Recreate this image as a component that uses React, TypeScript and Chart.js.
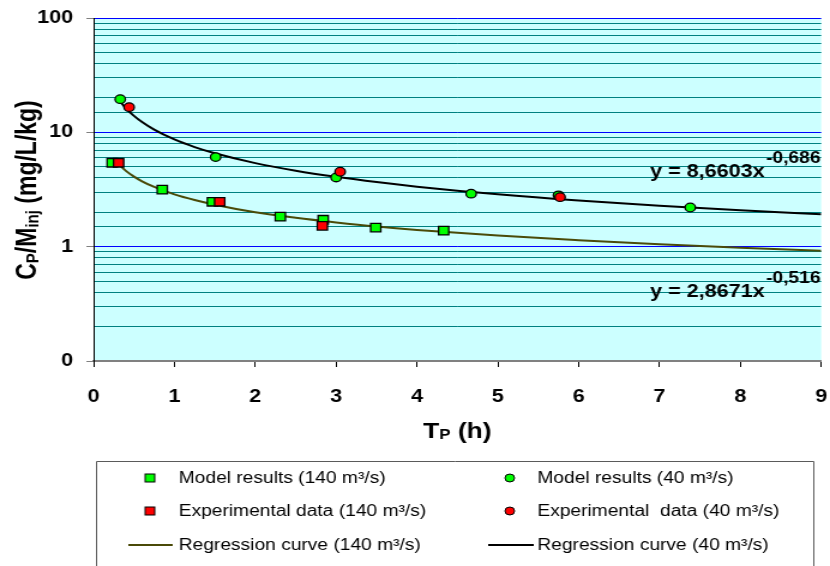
import React, { useEffect, useRef } from "react";
import { Chart, registerables } from "chart.js";

Chart.register(...registerables);

// ---------- data ----------
const model140X = [0.23, 0.85, 1.47, 2.31, 2.84, 3.49, 4.33];
const model140Y = [5.42, 3.15, 2.47, 1.83, 1.72, 1.47, 1.38];
const exp140X = [0.31, 1.56, 2.83];
const exp140Y = [5.42, 2.47, 1.52];

const model40X = [0.33, 1.51, 3.0, 4.67, 5.75, 7.38];
const model40Y = [19.5, 6.07, 4.03, 2.91, 2.81, 2.2];
const exp40X = [0.44, 3.05, 5.77];
const exp40Y = [16.6, 4.52, 2.71];

const reg140X = [0.28, 0.4, 0.5, 0.6, 0.75, 1, 1.25, 1.5, 2, 2.5, 3, 3.5, 4, 5, 6, 7, 8, 9];
const reg140Y = [5.53, 4.6, 4.1, 3.73, 3.33, 2.87, 2.56, 2.33, 2.0, 1.79, 1.63, 1.5, 1.4, 1.25, 1.14, 1.05, 0.98, 0.92];
const reg40X = [0.33, 0.4, 0.5, 0.6, 0.75, 1, 1.25, 1.5, 2, 2.5, 3, 3.5, 4, 5, 6, 7, 8, 9];
const reg40Y = [18.53, 16.24, 13.93, 12.3, 10.55, 8.66, 7.43, 6.56, 5.38, 4.62, 4.08, 3.67, 3.35, 2.87, 2.53, 2.28, 2.08, 1.92];

const xTicks = [0, 1, 2, 3, 4, 5, 6, 7, 8, 9];
const yMajorLabels: Record<string, string> = { "0.1": "0", "1": "1", "10": "10", "100": "100" };

const eq40 = { main: "y = 8,6603x", exp: "-0,686" };
const eq140 = { main: "y = 2,8671x", exp: "-0,516" };

const legendCol1 = ["Model results (140 m³/s)", "Experimental data (140 m³/s)", "Regression curve (140 m³/s)"];
const legendCol2 = ["Model results (40 m³/s)", "Experimental  data (40 m³/s)", "Regression curve (40 m³/s)"];

// ---------- styling ----------
const LOGICAL_W = 692;
const H = 566;
const FONT = '"Liberation Sans", Arial, Helvetica, sans-serif';
const GREEN = "#00ff00";
const RED = "#ff0000";
const OLIVE = "#4a4a08";

const pts = (xs: number[], ys: number[]) => xs.map((x, i) => ({ x, y: ys[i] }));
const isMajor = (v: number) => {
  const l = Math.log10(v);
  return Math.abs(l - Math.round(l)) < 1e-6;
};

type Part = { t: string; size: number; bold?: boolean; dy?: number };
const fontOf = (p: Part) => `${p.bold ? "bold " : ""}${p.size}px ${FONT}`;
function partsWidth(ctx: CanvasRenderingContext2D, parts: Part[]) {
  let w = 0;
  for (const p of parts) {
    ctx.font = fontOf(p);
    w += ctx.measureText(p.t).width;
  }
  return w;
}
function drawParts(ctx: CanvasRenderingContext2D, parts: Part[], x: number, y: number) {
  let cx = x;
  for (const p of parts) {
    ctx.font = fontOf(p);
    ctx.fillText(p.t, cx, y + (p.dy || 0));
    cx += ctx.measureText(p.t).width;
  }
}

const bgPlugin = {
  id: "bgPlugin",
  beforeDraw(chart: any) {
    const { ctx, chartArea: a } = chart;
    ctx.save();
    ctx.fillStyle = "#ccffff";
    ctx.fillRect(a.left, a.top, a.right - a.left, a.bottom - a.top);
    ctx.restore();
  },
};

const textPlugin = {
  id: "textPlugin",
  afterDraw(chart: any) {
    const ctx: CanvasRenderingContext2D = chart.ctx;
    const a = chart.chartArea;
    ctx.save();
    ctx.fillStyle = "#000";
    ctx.textBaseline = "alphabetic";
    ctx.textAlign = "left";

    // equations
    const drawEq = (eq: { main: string; exp: string }, x: number, y: number) => {
      drawParts(ctx, [{ t: eq.main, size: 18, bold: true }, { t: " ", size: 4, bold: true }, { t: eq.exp, size: 16, bold: true, dy: -14 }], x, y);
    };
    drawEq(eq40, 542, 177);
    drawEq(eq140, 542, 297);

    // x title
    const xt: Part[] = [
      { t: "T", size: 22, bold: true },
      { t: "P", size: 14, bold: true, dy: 1 },
      { t: " (h)", size: 22, bold: true },
    ];
    const xw = partsWidth(ctx, xt);
    drawParts(ctx, xt, (a.left + a.right) / 2 - xw / 2, 438);

    // y title
    const yt: Part[] = [
      { t: "C", size: 23, bold: true },
      { t: "P", size: 15, bold: true, dy: 2 },
      { t: "/M", size: 23, bold: true },
      { t: "inj", size: 15, bold: true, dy: 2 },
      { t: " (mg/L/kg)", size: 23, bold: true },
    ];
    const yw = partsWidth(ctx, yt);
    ctx.save();
    ctx.translate(29.5, 190);
    ctx.rotate(-Math.PI / 2);
    drawParts(ctx, yt, -yw / 2, 0);
    ctx.restore();

    // legend box
    ctx.strokeStyle = "#5a5a5a";
    ctx.lineWidth = 1;
    ctx.beginPath();
    ctx.moveTo(80.5, H + 5);
    ctx.lineTo(80.5, 461.5);
    ctx.lineTo(678.5, 461.5);
    ctx.lineTo(678.5, H + 5);
    ctx.stroke();

    const rows = [478, 511, 545];
    ctx.textBaseline = "middle";
    const square = (cx: number, cy: number, fill: string) => {
      ctx.fillStyle = fill;
      ctx.fillRect(cx - 4, cy - 4, 8, 8);
      ctx.strokeStyle = "#000";
      ctx.lineWidth = 1;
      ctx.strokeRect(cx - 4, cy - 4, 8, 8);
    };
    const circle = (cx: number, cy: number, fill: string) => {
      ctx.beginPath();
      ctx.arc(cx, cy, 4, 0, Math.PI * 2);
      ctx.fillStyle = fill;
      ctx.fill();
      ctx.strokeStyle = "#000";
      ctx.lineWidth = 1;
      ctx.stroke();
    };
    const seg = (x1: number, x2: number, cy: number, color: string) => {
      ctx.beginPath();
      ctx.moveTo(x1, cy);
      ctx.lineTo(x2, cy);
      ctx.strokeStyle = color;
      ctx.lineWidth = 1.8;
      ctx.stroke();
    };
    square(125, rows[0], GREEN);
    square(125, rows[1], RED);
    seg(107, 144, rows[2], OLIVE);
    circle(425, rows[0], GREEN);
    circle(425, rows[1], RED);
    seg(407, 445, rows[2], "#000");
    ctx.fillStyle = "#000";
    ctx.font = `16px ${FONT}`;
    legendCol1.forEach((t, i) => ctx.fillText(t, 149, rows[i] + 1));
    legendCol2.forEach((t, i) => ctx.fillText(t, 448, rows[i] + 1));

    ctx.restore();
  },
};

export default function App() {
  const ref = useRef<HTMLCanvasElement | null>(null);

  useEffect(() => {
    document.body.style.margin = "0";
    const canvas = ref.current;
    if (!canvas) return;
    const chart = new Chart(canvas, {
      type: "scatter",
      data: {
        datasets: [
          {
            label: "Regression curve (140 m³/s)",
            type: "line",
            data: pts(reg140X, reg140Y),
            borderColor: OLIVE,
            borderWidth: 2,
            pointRadius: 0,
            fill: false,
            cubicInterpolationMode: "monotone",
            order: 10,
          },
          {
            label: "Regression curve (40 m³/s)",
            type: "line",
            data: pts(reg40X, reg40Y),
            borderColor: "#000",
            borderWidth: 2,
            pointRadius: 0,
            fill: false,
            cubicInterpolationMode: "monotone",
            order: 9,
          },
          {
            label: "Model results (140 m³/s)",
            data: pts(model140X, model140Y),
            pointStyle: "rect",
            pointRadius: 6,
            backgroundColor: GREEN,
            borderColor: "#000",
            borderWidth: 1.3,
            order: 5,
          },
          {
            label: "Model results (40 m³/s)",
            data: pts(model40X, model40Y),
            pointStyle: "circle",
            pointRadius: 4.3,
            backgroundColor: GREEN,
            borderColor: "#000",
            borderWidth: 1.3,
            order: 4,
          },
          {
            label: "Experimental data (140 m³/s)",
            data: pts(exp140X, exp140Y),
            pointStyle: "rect",
            pointRadius: 6,
            backgroundColor: RED,
            borderColor: "#000",
            borderWidth: 1.3,
            order: 2,
          },
          {
            label: "Experimental data (40 m³/s)",
            data: pts(exp40X, exp40Y),
            pointStyle: "circle",
            pointRadius: 4.3,
            backgroundColor: RED,
            borderColor: "#000",
            borderWidth: 1.3,
            order: 1,
          },
        ],
      },
      options: {
        responsive: false,
        animation: false,
        events: [],
        layout: { padding: { top: 18, right: 6, left: 0, bottom: 0 } },
        plugins: { legend: { display: false }, tooltip: { enabled: false }, title: { display: false } },
        scales: {
          x: {
            type: "linear",
            min: xTicks[0],
            max: xTicks[xTicks.length - 1],
            afterBuildTicks: (s: any) => {
              s.ticks = xTicks.map((v) => ({ value: v }));
            },
            afterFit: (s: any) => {
              s.height = 205;
              s.paddingLeft = 0;
              s.paddingRight = 0;
            },
            ticks: {
              stepSize: 1,
              maxRotation: 0,
              autoSkip: false,
              padding: 19,
              color: "#000",
              font: { family: FONT, size: 18, weight: "bold" },
              callback: (v: any) => String(v),
            },
            grid: { drawOnChartArea: false, tickLength: 6, tickColor: "#000", tickWidth: 1 },
            border: { color: "#808080", width: 2 },
          },
          y: {
            type: "logarithmic",
            min: 0.1,
            max: 100,
            afterFit: (s: any) => {
              s.width = 78;
              s.paddingTop = 0;
              s.paddingBottom = 0;
            },
            ticks: {
              autoSkip: false,
              padding: 11,
              color: "#000",
              font: { family: FONT, size: 18, weight: "bold" },
              callback: (v: any) => {
                const n = Number(v);
                if (!isMajor(n)) return "";
                const key = String(Math.round(Math.log10(n)) === -1 ? 0.1 : Math.round(n));
                return yMajorLabels[key] ?? "";
              },
            },
            grid: {
              color: (c: any) => (c.tick && isMajor(c.tick.value) ? "#0000ff" : "#008080"),
              tickColor: (c: any) => (c.tick && isMajor(c.tick.value) ? "#808080" : "rgba(0,0,0,0)"),
              tickLength: 6,
              lineWidth: 1,
            },
            border: { color: "#000", width: 1 },
          },
        },
      },
      plugins: [bgPlugin, textPlugin],
    } as any);
    return () => chart.destroy();
  }, []);

  return (
    <div style={{ position: "absolute", left: 0, top: 0, width: 830, height: H, overflow: "hidden" }}>
      <canvas
        ref={ref}
        width={LOGICAL_W}
        height={H}
        style={{ display: "block", width: "830px", height: `${H}px` }}
      />
    </div>
  );
}
